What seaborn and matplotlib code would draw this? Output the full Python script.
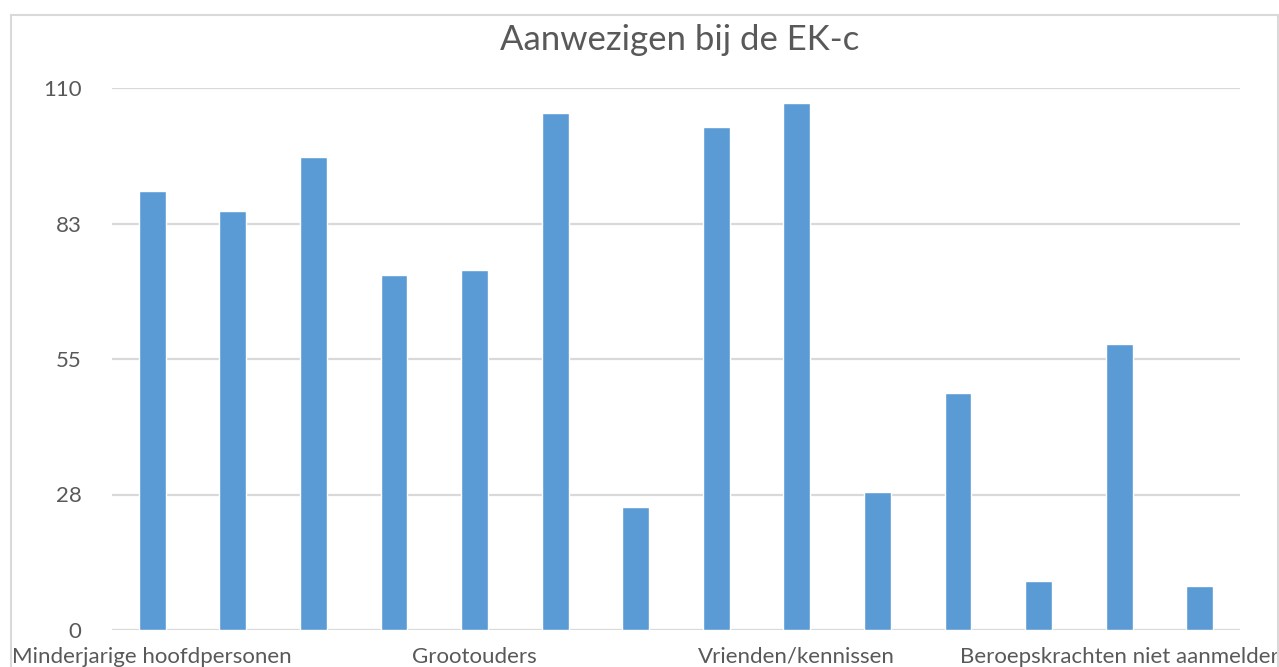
import matplotlib
matplotlib.use("Agg")
import matplotlib.pyplot as plt
import matplotlib.patches as mpatches
import seaborn as sns
import pandas as pd

title = "Aanwezigen bij de EK-c"
category_labels = [
    "Minderjarige hoofdpersonen", "", "", "",
    "Grootouders", "", "", "",
    "Vrienden/kennissen", "", "", "",
    "Beroepskrachten niet aanmelder", "",
]
values = [89, 85, 96, 72, 73, 105, 25, 102, 107, 28, 48, 10, 58, 9]
y_ticks = [0, 27.5, 55, 82.5, 110]
y_tick_labels = ["0", "28", "55", "83", "110"]

bar_color = "#5B9BD5"
text_color = "#595959"
grid_color = "#D9D9D9"

sns.set_theme(style="white")
plt.rcParams["font.family"] = ["Lato", "DejaVu Sans"]

df = pd.DataFrame({"pos": list(range(len(values))), "value": values})

fig = plt.figure(figsize=(12.79, 6.67), dpi=100)
ax = fig.add_axes([112 / 1279, 1 - 630 / 667, (1240 - 112) / 1279, (630 - 88) / 667])

sns.barplot(data=df, x="pos", y="value", color=bar_color, width=0.335,
            saturation=1, ax=ax, zorder=3)

ax.set_ylim(0, 110)
ax.set_xlim(-0.5, len(values) - 0.5)
ax.set_yticks(y_ticks)
ax.set_yticklabels(y_tick_labels)
shown = [i for i, lab in enumerate(category_labels) if lab]
ax.set_xticks(shown)
ax.set_xticklabels([category_labels[i] for i in shown])
ax.tick_params(axis="y", length=0, pad=22, labelsize=16, labelcolor=text_color)
ax.tick_params(axis="x", length=0, pad=12, labelsize=16, labelcolor=text_color)
ax.set_xlabel("")
ax.set_ylabel("")

for y in y_ticks:
    ax.axhline(y, color=grid_color, lw=1.6, zorder=1)
for s in ["top", "right", "left", "bottom"]:
    ax.spines[s].set_visible(False)

fig.text(680 / 1279, 1 - 40 / 667, title, ha="center", va="center",
         fontsize=25, color=text_color)

border = mpatches.Rectangle((10.5 / 1279, -0.1), (1277.5 - 10.5) / 1279, 1.1 - 14.5 / 667,
                            transform=fig.transFigure, fill=False,
                            edgecolor=grid_color, lw=1.5, zorder=0)
fig.patches.append(border)

fig.savefig("out.png", dpi=100)
